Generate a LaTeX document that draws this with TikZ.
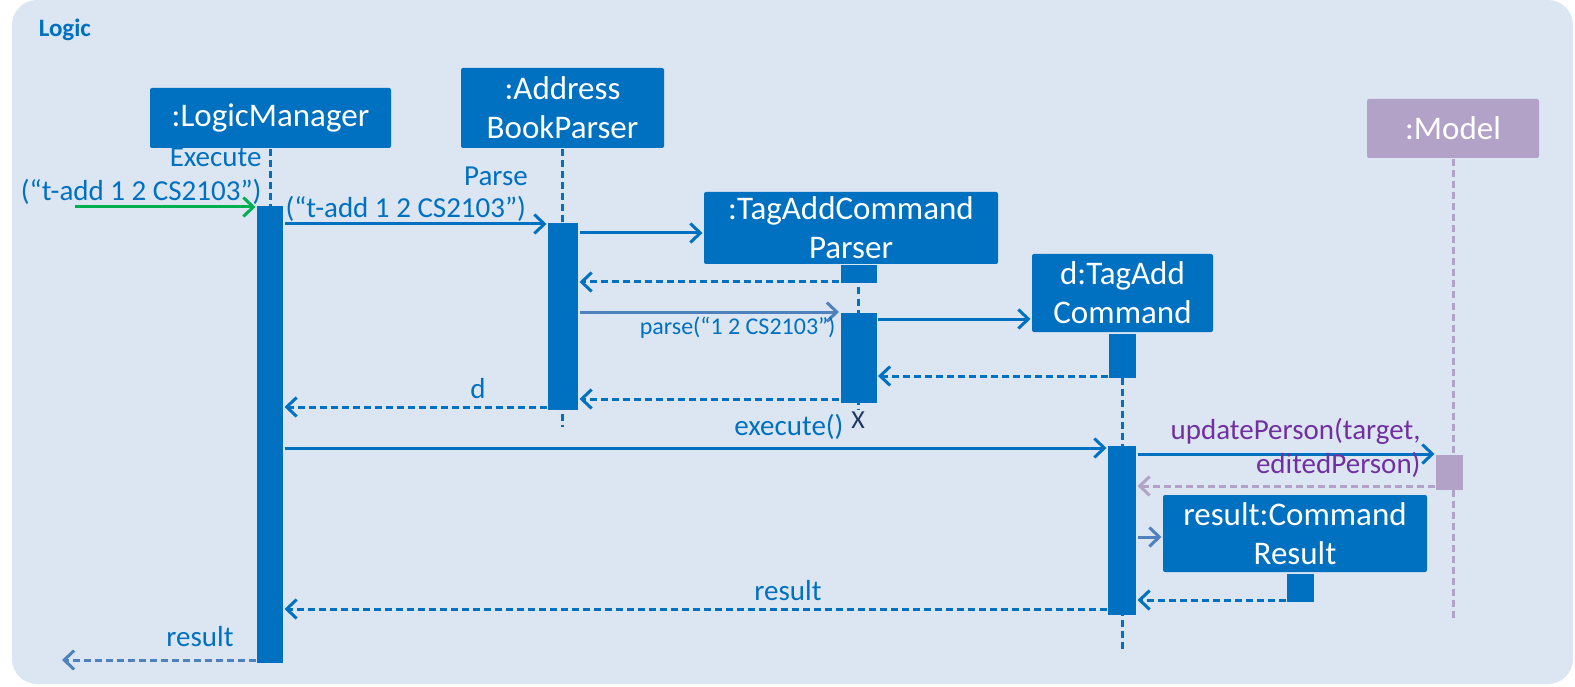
\documentclass[tikz,border=0pt]{standalone}
\usepackage{fontspec}
\setmainfont{Carlito}
\usetikzlibrary{arrows.meta}

\definecolor{umlblue}{HTML}{0070C0}
\definecolor{bgblue}{HTML}{DCE6F2}
\definecolor{modelpurple}{HTML}{B3A2C7}
\definecolor{textpurple}{HTML}{7030A0}
\definecolor{callgreen}{HTML}{00B050}
\definecolor{softblue}{HTML}{4F81BD}
\definecolor{killnavy}{HTML}{1F3864}

\tikzset{
  obj/.style={fill=umlblue,text=white,rounded corners=2pt,inner sep=0pt,align=center,
    font=\fontsize{33}{39}\selectfont},
  act/.style={fill=umlblue,inner sep=0pt,anchor=north},
  life/.style={umlblue,dash pattern=on 7pt off 4pt},
  msg/.style={->,umlblue},
  ret/.style={->,umlblue,dash pattern=on 7pt off 4pt},
  lbl/.style={umlblue,inner sep=0pt,font=\fontsize{29}{34}\selectfont}
}

\begin{document}
\begin{tikzpicture}[x=1pt,y=-1pt,line width=3pt,>={Straight Barb[length=10pt,width=19pt]}]
        \useasboundingbox (0,0) rectangle (1575,687);
        % draw the frame
        \fill[bgblue,rounded corners=25pt] (12,0) rectangle (1573,684);
        \node[umlblue,font=\bfseries\fontsize{25}{25}\selectfont,anchor=west] (frame) at (34,30) {Logic};

        % draw the objects
        \node[obj,minimum width=241pt,minimum height=60pt] (LM) at (270.5,118) {:LogicManager};
        \node[obj,minimum width=203pt,minimum height=80pt] (ABP) at (562.5,108) {:Address\\BookParser};
        \node[obj,minimum width=294pt,minimum height=72pt] (TACP) at (851,228) {:TagAddCommand\\Parser};
        \node[obj,minimum width=181pt,minimum height=78pt] (TAC) at (1122.5,293) {d:TagAdd\\Command};
        \node[obj,fill=modelpurple,minimum width=172pt,minimum height=59pt] (Model) at (1453,128.5) {:Model};
        \node[obj,minimum width=264pt,minimum height=77pt] (CR) at (1295,533.5) {result:Command\\Result};

        % draw the lifelines
        \draw[life] (LM.south) -- (LM.south |- 0,400);
        \draw[life] (ABP.south) -- (ABP.south |- 0,427);
        \draw[life] (TACP.south -| 858,0) -- (858,409);
        \draw[life] (TAC.south) -- (TAC.south |- 0,649);
        \draw[life,modelpurple] (Model.south) -- (Model.south |- 0,619);

        % draw the activations
        \node[act,minimum width=26pt,minimum height=456pt] (aLM) at (270,205) {};
        \node[act,minimum width=30pt,minimum height=186pt] (aABP) at (563,222) {};
        \node[act,minimum width=36pt,minimum height=18pt] (aTACPa) at (858.5,264) {};
        \node[act,minimum width=36pt,minimum height=90pt] (aTACPb) at (858.5,311) {};
        \node[act,minimum width=27pt,minimum height=44pt] (aTACa) at (1122.5,332) {};
        \node[act,minimum width=28pt,minimum height=169pt] (aTACb) at (1122,444) {};
        \node[act,fill=modelpurple,minimum width=27pt,minimum height=35pt] (aModel) at (1449.5,453) {};
        \node[act,minimum width=27pt,minimum height=28pt] (aCR) at (1300.5,572) {};
        \node[killnavy,inner sep=0pt,font=\fontsize{26}{26}\selectfont] (kill) at (858,420) {X};

        % draw the messages
        \coordinate (in) at (75,207);
        \draw[msg,callgreen] (in) -- (aLM.west |- in);
        \node[lbl,align=right,anchor=east] (lExec) at (263,176) {Execute\\(“t-add 1 2 CS2103”)};

        \draw[msg] (aLM.east |- 0,224) -- (aABP.west |- 0,224);
        \node[lbl,anchor=west] (lArg) at (284,209) {(“t-add 1 2 CS2103”)};
        \node[lbl] (lParse) at (496,176) {Parse};

        \draw[msg] (aABP.east |- 0,233) -- (TACP.west |- 0,233);
        \draw[ret] (aTACPa.west |- 0,282) -- (aABP.east |- 0,282);

        \draw[msg,softblue] (aABP.east |- 0,312) -- (aTACPb.west |- 0,312);
        \node[lbl,font=\fontsize{24}{24}\selectfont,anchor=east] (lParseArg) at (837,328) {parse(“1 2 CS2103”)};

        \draw[msg] (aTACPb.east |- 0,319) -- (TAC.west |- 0,319);
        \draw[ret] (aTACa.west |- 0,376) -- (aTACPb.east |- 0,376);
        \draw[ret] (aTACPb.west |- 0,399) -- (aABP.east |- 0,399);
        \draw[ret] (aABP.west |- 0,407) -- (aLM.east |- 0,407);
        \node[lbl] (lD) at (478,389) {d};

        \draw[msg] (aLM.east |- 0,448) -- (aTACb.west |- 0,448);
        \node[lbl,anchor=east] (lExecute) at (845,427) {execute()};

        \draw[msg] (aTACb.east |- 0,454) -- (aModel.west |- 0,454);
        \node[lbl,text=textpurple,align=right,anchor=east] (lUpdate) at (1422,448) {updatePerson(target,\\editedPerson)};
        \draw[ret,modelpurple] (aModel.west |- 0,486) -- (aTACb.east |- 0,486);

        \draw[msg,softblue] (aTACb.east |- 0,537) -- (CR.west |- 0,537);
        \draw[ret] (aCR.west |- 0,600) -- (aTACb.east |- 0,600);

        \draw[ret] (aTACb.west |- 0,609) -- (aLM.east |- 0,609);
        \node[lbl] (lResult) at (788,591) {result};

        \coordinate (out) at (62,660);
        \draw[ret,softblue] (aLM.west |- out) -- (out);
        \node[lbl] (lResultOut) at (200,637) {result};
\end{tikzpicture}
\end{document}
